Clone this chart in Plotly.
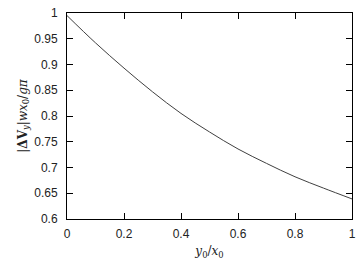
import plotly.graph_objects as go

x_vals = [0.0, 0.1, 0.2, 0.3, 0.4, 0.5, 0.6, 0.7, 0.8, 0.9, 1.0]
y_vals = [0.995, 0.942, 0.893, 0.847, 0.805, 0.769, 0.736, 0.708, 0.682, 0.660, 0.639]

x_ticks = [0, 0.2, 0.4, 0.6, 0.8, 1]
x_ticklabels = ["0", "0.2", "0.4", "0.6", "0.8", "1"]
y_ticks = [0.6, 0.65, 0.7, 0.75, 0.8, 0.85, 0.9, 0.95, 1]
y_ticklabels = ["0.6", "0.65", "0.7", "0.75", "0.8", "0.85", "0.9", "0.95", "1"]

fig = go.Figure()
fig.add_trace(go.Scatter(x=x_vals, y=y_vals, mode="lines",
                         line=dict(color="#404040", width=1, shape="spline"),
                         showlegend=False))

axis_common = dict(showline=True, linecolor="black", linewidth=1, mirror="ticks",
                   ticks="inside", ticklen=6, tickcolor="black", tickwidth=1,
                   showgrid=False, zeroline=False,
                   tickfont=dict(family="Liberation Sans, Arial", size=12, color="#222"))

fig.update_layout(
    width=362, height=262,
    margin=dict(l=67, r=6, t=9, b=39),
    plot_bgcolor="white", paper_bgcolor="white",
    xaxis=dict(range=[0, 1], tickvals=x_ticks, ticktext=x_ticklabels,
               ticklabelstandoff=4,
               title=dict(text="<i>y</i><sub>0</sub>/<i>x</i><sub>0</sub>",
                          font=dict(family="DejaVu Serif", size=12, color="#222"),
                          standoff=6),
               **axis_common),
    yaxis=dict(range=[0.6, 1], tickvals=y_ticks, ticktext=y_ticklabels,
               ticklabelstandoff=6,
               title=dict(text="|<b>ΔV</b><sub><i>y</i></sub>|<i>wx</i><sub>0</sub>/<i>gπ</i>",
                          font=dict(family="DejaVu Serif", size=12, color="#222"),
                          standoff=4),
               **axis_common),
)

fig.write_html("out.html")
